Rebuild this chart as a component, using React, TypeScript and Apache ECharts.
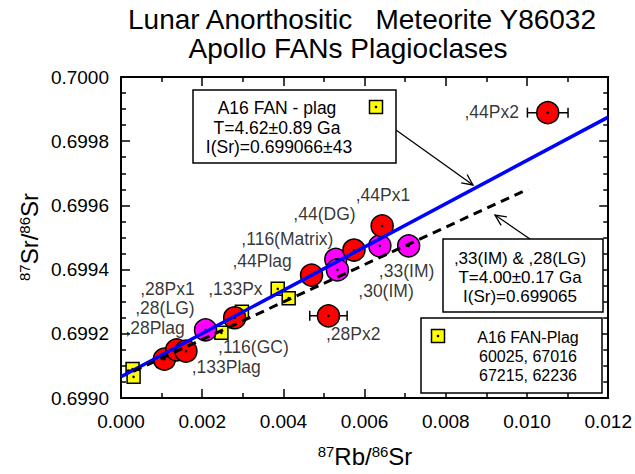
import React, { useEffect, useRef } from "react";
import * as echarts from "echarts";

// ---- Data ----
const xTickMin = 0;
const xTickMax = 0.012;
const xTickInterval = 0.002;
const yTickMin = 0.699;
const yTickMax = 0.7;
const yTickInterval = 0.0002;

// [Rb87/Sr86, Sr87/Sr86]
const redPoints = [
  [0.01051, 0.699889],
  [0.006432, 0.699536],
  [0.005738, 0.699461],
  [0.004693, 0.699383],
  [0.005109, 0.699256],
  [0.002799, 0.69925],
  [0.001068, 0.699121],
  [0.001371, 0.69915],
  [0.001599, 0.699146],
];
const magentaPoints = [
  [0.002082, 0.699212],
  [0.00529, 0.699432],
  [0.00533, 0.699399],
  [0.006375, 0.699474],
  [0.007085, 0.699474],
];
const yellowPoints = [
  [0.000285, 0.69909],
  [0.00031, 0.699066],
  [0.002473, 0.699203],
  [0.002978, 0.699269],
  [0.00386, 0.69934],
  [0.00413, 0.699311],
];
// [x, y, x error]
const errorBars = [
  [0.01051, 0.699889, 0.0005],
  [0.005109, 0.699256, 0.00046],
];
const isochronFAN = [
  [0, 0.699066],
  [0.012, 0.699875],
];
const isochronIM = [
  [0.0003, 0.699083],
  [0.01003, 0.699651],
];
// [x, y, text] label anchors (left edge, middle)
const pointLabels: [number, number, string][] = [
  [0.008457, 0.699892, ",44Px2"],
  [0.00578, 0.699632, ",44Px1"],
  [0.004244, 0.699572, ",44(DG)"],
  [0.002963, 0.699495, ",116(Matrix)"],
  [0.002743, 0.699427, ",44Plag"],
  [0.000473, 0.699339, ",28Px1"],
  [0.00035, 0.699279, ",28(LG)"],
  [0.000105, 0.699217, ",28Plag"],
  [0.002145, 0.699339, ",133Px"],
  [0.00239, 0.699158, ",116(GC)"],
  [0.001739, 0.699098, ",133Plag"],
  [0.00635, 0.699397, ",33(IM)"],
  [0.005843, 0.699334, ",30(IM)"],
  [0.005045, 0.699199, ",28Px2"],
];
const titleLines = ["Lunar Anorthositic   Meteorite Y86032", "Apollo FANs Plagioclases"];
const box1Lines = ["A16 FAN - plag", "T=4.62±0.89 Ga", "I(Sr)=0.699066±43"];
const box2Lines = [",33(IM) & ,28(LG)", "T=4.00±0.17 Ga", "I(Sr)=0.699065"];
const box3Lines = ["A16 FAN-Plag", "60025, 67016", "67215, 62236"];

const FONT = '"Liberation Sans", Arial, Helvetica, sans-serif';

function txt(text: string, x: number, y: number, size: number, align = "center") {
  return {
    type: "text",
    x,
    y,
    z: 110,
    silent: true,
    style: {
      text,
      fill: "#000",
      fontSize: size,
      fontFamily: FONT,
      align,
      textAlign: align,
      verticalAlign: "middle",
      textVerticalAlign: "middle",
    },
  };
}

function box(x: number, y: number, w: number, h: number) {
  return {
    type: "rect",
    z: 100,
    silent: true,
    shape: { x, y, width: w, height: h },
    style: { fill: "#fff", stroke: "#000", lineWidth: 1.5 },
  };
}

function icon(cx: number, cy: number, s: number) {
  return [
    {
      type: "rect",
      z: 110,
      silent: true,
      shape: { x: cx - s / 2, y: cy - s / 2, width: s, height: s },
      style: { fill: "#ffff00", stroke: "#000", lineWidth: 1.5 },
    },
    {
      type: "circle",
      z: 111,
      silent: true,
      shape: { cx, cy, r: 1.3 },
      style: { fill: "#000" },
    },
  ];
}

function arrow(x1: number, y1: number, x2: number, y2: number) {
  const a = Math.atan2(y1 - y2, x1 - x2);
  const len = 12;
  const ang = (25 * Math.PI) / 180;
  return [
    {
      type: "line",
      z: 100,
      silent: true,
      shape: { x1, y1, x2, y2 },
      style: { stroke: "#000", lineWidth: 1.3 },
    },
    {
      type: "polyline",
      z: 100,
      silent: true,
      shape: {
        points: [
          [x2 + len * Math.cos(a + ang), y2 + len * Math.sin(a + ang)],
          [x2, y2],
          [x2 + len * Math.cos(a - ang), y2 + len * Math.sin(a - ang)],
        ],
      },
      style: { stroke: "#000", lineWidth: 1.3, fill: "none" },
    },
  ];
}

const axisCommon = {
  axisLine: { show: true, onZero: false, lineStyle: { color: "#000", width: 2 } },
  axisTick: { show: true, inside: true, length: 9, lineStyle: { color: "#000", width: 1.5 } },
  minorTick: { show: true, length: 5, lineStyle: { color: "#000", width: 1.5 } },
  splitLine: { show: false },
  minorSplitLine: { show: false },
};

export default function App() {
  const ref = useRef<HTMLDivElement>(null);
  useEffect(() => {
    if (!ref.current) return;
    const chart = echarts.init(ref.current, null, { renderer: "svg" });
    const allPoints = [...yellowPoints, ...magentaPoints, ...redPoints];
    const option: any = {
      animation: false,
      backgroundColor: "#fff",
      grid: { left: 121, top: 77, right: 24, bottom: 76, containLabel: false },
      xAxis: [
        {
          type: "value",
          min: xTickMin,
          max: xTickMax,
          interval: xTickInterval,
          position: "bottom",
          ...axisCommon,
          minorTick: { ...axisCommon.minorTick, splitNumber: 2 },
          axisLabel: {
            margin: 14,
            color: "#000",
            fontSize: 19,
            fontFamily: FONT,
            formatter: (v: number) => v.toFixed(3),
          },
        },
        {
          type: "value",
          min: xTickMin,
          max: xTickMax,
          interval: xTickInterval,
          position: "top",
          ...axisCommon,
          minorTick: { ...axisCommon.minorTick, splitNumber: 2 },
          axisLabel: { show: false },
        },
      ],
      yAxis: [
        {
          type: "value",
          min: yTickMin,
          max: yTickMax,
          interval: yTickInterval,
          position: "left",
          ...axisCommon,
          minorTick: { ...axisCommon.minorTick, splitNumber: 4 },
          axisLabel: {
            margin: 12,
            color: "#000",
            fontSize: 19,
            fontFamily: FONT,
            formatter: (v: number) => v.toFixed(4),
          },
        },
        {
          type: "value",
          min: yTickMin,
          max: yTickMax,
          interval: yTickInterval,
          position: "right",
          ...axisCommon,
          minorTick: { ...axisCommon.minorTick, splitNumber: 4 },
          axisLabel: { show: false },
        },
      ],
      series: [
        {
          type: "line",
          data: isochronFAN,
          symbol: "none",
          silent: true,
          lineStyle: { color: "#0000ff", width: 3.5 },
        },
        {
          type: "line",
          data: isochronIM,
          symbol: "none",
          silent: true,
          lineStyle: { color: "#000", width: 3, type: [9, 6] },
        },
        {
          type: "custom",
          data: errorBars,
          encode: { x: 0, y: 1 },
          silent: true,
          renderItem: (params: any, api: any) => {
            const x = api.value(0);
            const y = api.value(1);
            const e = api.value(2);
            const p1 = api.coord([x - e, y]);
            const p2 = api.coord([x + e, y]);
            const h = 5;
            const st = { stroke: "#000", lineWidth: 1.5 };
            return {
              type: "group",
              children: [
                { type: "line", shape: { x1: p1[0], y1: p1[1], x2: p2[0], y2: p2[1] }, style: st },
                { type: "line", shape: { x1: p1[0], y1: p1[1] - h, x2: p1[0], y2: p1[1] + h }, style: st },
                { type: "line", shape: { x1: p2[0], y1: p2[1] - h, x2: p2[0], y2: p2[1] + h }, style: st },
              ],
            };
          },
        },
        {
          type: "scatter",
          data: yellowPoints,
          symbol: "rect",
          symbolSize: 13,
          silent: true,
          itemStyle: { color: "#ffff00", borderColor: "#000", borderWidth: 1.5, opacity: 1 },
        },
        {
          type: "scatter",
          data: magentaPoints,
          symbol: "circle",
          symbolSize: 22,
          silent: true,
          itemStyle: { color: "#ff00ff", borderColor: "#000", borderWidth: 1.5, opacity: 1 },
        },
        {
          type: "scatter",
          data: redPoints,
          symbol: "circle",
          symbolSize: 22,
          silent: true,
          itemStyle: { color: "#ff0000", borderColor: "#000", borderWidth: 1.5, opacity: 1 },
        },
        {
          type: "scatter",
          data: allPoints,
          symbol: "circle",
          symbolSize: 2.6,
          silent: true,
          itemStyle: { color: "#000", opacity: 1 },
        },
        {
          type: "scatter",
          data: pointLabels,
          symbolSize: 0.1,
          silent: true,
          itemStyle: { color: "rgba(0,0,0,0)" },
          label: {
            show: true,
            position: "right",
            distance: 0,
            color: "#000",
            fontSize: 17.5,
            fontFamily: FONT,
            formatter: (p: any) => p.data[2],
          },
        },
      ],
      graphic: [
        txt(titleLines[0], 362, 19, 28),
        txt(titleLines[1], 348, 48, 28),
        {
          type: "text",
          x: 365,
          y: 456,
          silent: true,
          style: {
            text: "{s|87}{m|Rb/}{s|86}{m|Sr}",
            fill: "#000",
            align: "center",
            textAlign: "center",
            verticalAlign: "middle",
            textVerticalAlign: "middle",
            rich: {
              s: { fontSize: 15, fontFamily: FONT, verticalAlign: "top", fill: "#000" },
              m: { fontSize: 24, fontFamily: FONT, fill: "#000" },
            },
          },
        },
        {
          type: "text",
          x: 29,
          y: 237,
          rotation: Math.PI / 2,
          silent: true,
          style: {
            text: "{s|87}{m|Sr/}{s|86}{m|Sr}",
            fill: "#000",
            align: "center",
            textAlign: "center",
            verticalAlign: "middle",
            textVerticalAlign: "middle",
            rich: {
              s: { fontSize: 15, fontFamily: FONT, verticalAlign: "top", fill: "#000" },
              m: { fontSize: 24, fontFamily: FONT, fill: "#000" },
            },
          },
        },
        box(193, 90, 203, 73),
        txt(box1Lines[0], 277, 108, 17.5),
        txt(box1Lines[1], 277, 128, 17.5),
        txt(box1Lines[2], 279, 147, 17.5),
        ...icon(376, 107, 13),
        ...arrow(396, 130, 473, 185),
        box(443, 239, 160, 73),
        txt(box2Lines[0], 520, 258, 17),
        txt(box2Lines[1], 520, 277, 17),
        txt(box2Lines[2], 520, 296, 17),
        ...arrow(530, 239, 495, 215),
        box(421, 318, 181, 75),
        ...icon(438, 336, 13),
        txt(box3Lines[0], 528, 337, 16),
        txt(box3Lines[1], 528, 356, 16),
        txt(box3Lines[2], 528, 375, 16),
      ],
    };
    chart.setOption(option);
    return () => chart.dispose();
  }, []);
  return (
    <div
      ref={ref}
      style={{ position: "absolute", left: 0, top: 0, width: 635, height: 474, background: "#fff" }}
    />
  );
}
